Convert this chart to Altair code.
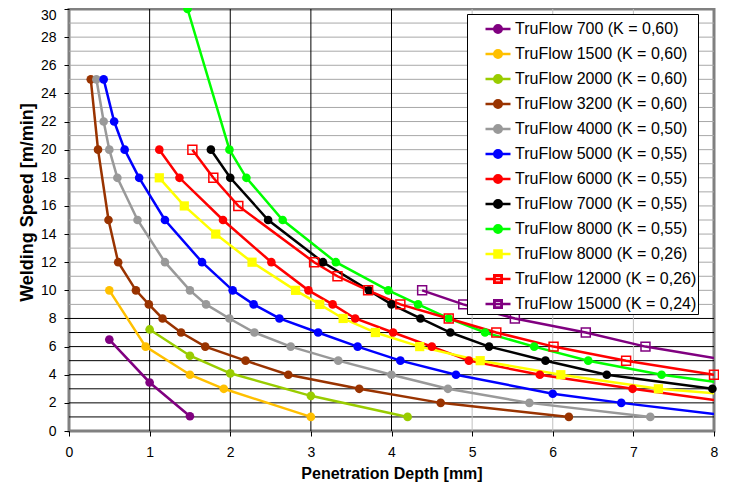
import json
import altair as alt
import pandas as pd

series_names = [
    "TruFlow 700 (K = 0,60)", "TruFlow 1500 (K = 0,60)", "TruFlow 2000 (K = 0,60)",
    "TruFlow 3200 (K = 0,60)", "TruFlow 4000 (K = 0,50)", "TruFlow 5000 (K = 0,55)",
    "TruFlow 6000 (K = 0,55)", "TruFlow 7000 (K = 0,55)", "TruFlow 8000 (K = 0,55)",
    "TruFlow 8000 (K = 0,26)", "TruFlow 12000 (K = 0,26)", "TruFlow 15000 (K = 0,24)",
]
series_colors = ["#800080", "#FFC000", "#99CC00", "#993300", "#999999", "#0000FF",
                 "#FF0000", "#000000", "#00FF00", "#FFFF00", "#FF0000", "#800080"]
series_markers = ["circle"] * 9 + ["square", "open", "open"]

tf700_x = [0.5, 1.0, 1.5]
tf700_y = [6.5, 3.45, 1.05]
tf1500_x = [0.5, 0.95, 1.5, 1.92, 3.0]
tf1500_y = [10, 6, 4, 3, 1]
tf2000_x = [1.0, 1.5, 2.0, 3.0, 4.2]
tf2000_y = [7.22, 5.35, 4.1, 2.5, 1.0]
tf3200_x = [0.27, 0.36, 0.49, 0.61, 0.83, 0.99, 1.16, 1.39, 1.69, 2.19, 2.72, 3.6, 4.61, 6.2]
tf3200_y = [25, 20, 15, 12, 10, 9, 8, 7, 6, 5, 4, 3, 2, 1]
tf4000_x = [0.34, 0.43, 0.5, 0.6, 0.85, 1.19, 1.5, 1.7, 1.99, 2.3, 2.75, 3.34, 4.0, 4.7, 5.71, 7.21]
tf4000_y = [25, 22, 20, 18, 15, 12, 10, 9, 8, 7, 6, 5, 4, 3, 2, 1]
tf5000_x = [0.43, 0.56, 0.69, 0.87, 1.19, 1.65, 2.03, 2.29, 2.61, 3.09, 3.58, 4.11, 4.8, 6.0, 6.85, 8.3]
tf5000_y = [25, 22, 20, 18, 15, 12, 10, 9, 8, 7, 6, 5, 4, 2.65, 2, 1]
tf6000_x = [1.12, 1.37, 1.91, 2.51, 2.97, 3.27, 3.55, 4.02, 4.5, 4.96, 5.84, 6.99, 8.25]
tf6000_y = [20, 18, 15, 12, 10, 9, 8, 7, 6, 5, 4, 3, 2]
tf7000_x = [1.76, 2.0, 2.47, 3.15, 3.72, 4.0, 4.36, 4.73, 5.21, 5.91, 6.67, 7.98]
tf7000_y = [20, 18, 15, 12, 10, 9, 8, 7, 6, 5, 4, 3]
tf8000a_x = [1.47, 1.99, 2.2, 2.65, 3.31, 3.96, 4.33, 4.71, 5.16, 5.77, 6.44, 7.35, 8.65]
tf8000a_y = [30, 20, 18, 15, 12, 10, 9, 8, 7, 6, 5, 4, 3]
tf8000b_x = [1.12, 1.43, 1.82, 2.27, 2.81, 3.11, 3.4, 3.8, 4.35, 5.1, 6.1, 7.31, 9.5]
tf8000b_y = [18, 16, 14, 12, 10, 9, 8, 7, 6, 5, 4, 3, 2]
tf12000_x = [1.53, 1.79, 2.1, 3.04, 3.33, 3.71, 4.11, 4.71, 5.3, 6.01, 6.91, 8.0]
tf12000_y = [20, 18, 16, 12, 11, 10, 9, 8, 7, 6, 5, 4]
tf15000_x = [4.38, 4.89, 5.53, 6.41, 7.15, 8.2]
tf15000_y = [10, 9, 8, 7, 6, 5]

all_x = [tf700_x, tf1500_x, tf2000_x, tf3200_x, tf4000_x, tf5000_x, tf6000_x,
         tf7000_x, tf8000a_x, tf8000b_x, tf12000_x, tf15000_x]
all_y = [tf700_y, tf1500_y, tf2000_y, tf3200_y, tf4000_y, tf5000_y, tf6000_y,
         tf7000_y, tf8000a_y, tf8000b_y, tf12000_y, tf15000_y]

x_ticks = list(range(0, 9))
y_ticks = list(range(0, 31, 2))
h_grid = list(range(1, 30))
v_grid = list(range(1, 8))

rows = []
for name, marker, xs, ys in zip(series_names, series_markers, all_x, all_y):
    for i, (xv, yv) in enumerate(zip(xs, ys)):
        rows.append({"series": name, "marker": marker, "x": xv, "y": yv, "i": i})
df = pd.DataFrame(rows)

FONT = "Liberation Sans"
xscale = alt.Scale(domain=[0, 8], nice=False)
yscale = alt.Scale(domain=[0, 30], nice=False)
cscale = alt.Scale(domain=series_names, range=series_colors)

ax_x = alt.Axis(values=x_ticks, title="Penetration Depth [mm]", grid=False, domain=False,
                tickSize=5, tickColor="black", labelFont=FONT, labelFontSize=14,
                labelColor="black", labelPadding=9, labelFlush=False,
                titleFont=FONT, titleFontSize=16, titleFontWeight="bold", titleColor="black",
                titleY=50, titleBaseline="bottom")
ax_y = alt.Axis(values=y_ticks, title="Welding Speed [m/min]", grid=False, domain=False,
                tickSize=5, tickColor="black", labelFont=FONT, labelFontSize=14,
                labelColor="black", labelPadding=8, labelFlush=False,
                labelOffset={"condition": {"test": "datum.value >= 30", "value": 6}, "value": 0},
                titleFont=FONT, titleFontSize=18, titleFontWeight="bold", titleColor="black",
                titleX=-42, titleY=193, titleBaseline="middle", titleAngle=270)

open_js = json.dumps([n for n, m in zip(series_names, series_markers) if m == "open"]).replace('"', "'")
sq_js = json.dumps([n for n, m in zip(series_names, series_markers) if m == "square"]).replace('"', "'")
circ_path = "M-1,0L1,0M-0.3,0A0.3,0.3,0,1,0,0.3,0A0.3,0.3,0,1,0,-0.3,0Z"
sq_path = "M-1,0L1,0M-0.28,-0.28L0.28,-0.28L0.28,0.28L-0.28,0.28Z"
open_path = ("M-1,0L1,0M-0.3,-0.3L0.3,-0.3L0.3,0.3L-0.3,0.3Z"
             "M-0.27,-0.27L-0.27,0.27L0.27,0.27L0.27,-0.27Z")
shape_expr = (f"indexof({open_js}, datum.value) >= 0 ? '{open_path}' : "
              f"(indexof({sq_js}, datum.value) >= 0 ? '{sq_path}' : '{circ_path}')")

legend = alt.Legend(
    title=None, orient="none", legendX=398, legendY=5,
    fillColor="white", strokeColor="black", padding=1,
    labelFont=FONT, labelFontSize=16, labelColor="black",
    symbolOffset=16, labelOffset=3,
    labelExpr="datum.label + '\u00a0\u00a0\u00a0\u00a0\u00a0'",
    symbolSize=625, symbolStrokeWidth=2.5, rowPadding=2, labelLimit=400,
    symbolType=alt.ExprRef(expr=shape_expr),
)

hgrid = alt.Chart(pd.DataFrame({"v": h_grid})).mark_rule(strokeWidth=1).encode(
    y=alt.Y("v:Q", scale=yscale, axis=ax_y),
    color=alt.when(alt.datum.v <= 8).then(alt.value("#000000")).otherwise(alt.value("#A8A8A8")),
)
vgrid = alt.Chart(pd.DataFrame({"v": v_grid})).mark_rule(strokeWidth=1).encode(
    x=alt.X("v:Q", scale=xscale, axis=ax_x),
    color=alt.when(alt.datum.v <= 4).then(alt.value("#000000")).otherwise(alt.value("#C0C0C0")),
)

base = alt.Chart(df)
lines = base.mark_line(strokeWidth=2.5, clip=True).encode(
    x=alt.X("x:Q", scale=xscale, axis=ax_x),
    y=alt.Y("y:Q", scale=yscale, axis=ax_y),
    color=alt.Color("series:N", scale=cscale, legend=legend),
    detail="series:N",
    order="i:Q",
)

pts = base.transform_filter(alt.datum.x <= 8.05)
circles = pts.transform_filter(alt.datum.marker == "circle").mark_point(
    shape="circle", filled=True, size=75, opacity=1).encode(
    x=alt.X("x:Q", scale=xscale, axis=ax_x),
    y=alt.Y("y:Q", scale=yscale, axis=ax_y),
    color=alt.Color("series:N", scale=cscale, legend=None),
)
squares = pts.transform_filter(alt.datum.marker == "square").mark_point(
    shape="square", filled=True, size=85, opacity=1).encode(
    x=alt.X("x:Q", scale=xscale, axis=ax_x),
    y=alt.Y("y:Q", scale=yscale, axis=ax_y),
    color=alt.Color("series:N", scale=cscale, legend=None),
)
opens = pts.transform_filter(alt.datum.marker == "open").mark_point(
    shape="square", filled=False, size=80, strokeWidth=1.5, opacity=1).encode(
    x=alt.X("x:Q", scale=xscale, axis=ax_x),
    y=alt.Y("y:Q", scale=yscale, axis=ax_y),
    color=alt.Color("series:N", scale=cscale, legend=None),
)

chart = alt.layer(hgrid, vgrid, lines, circles, squares, opens).properties(
    width=645, height=422,
    autosize=alt.AutoSizeParams(type="none"),
    padding={"left": 61, "top": 1, "right": 5, "bottom": 51},
).configure(
    background="white", font=FONT,
).configure_view(
    stroke="#808080", strokeWidth=3, fill="white",
)

chart.save("out.html", embed_options={"renderer": "svg", "actions": False})
